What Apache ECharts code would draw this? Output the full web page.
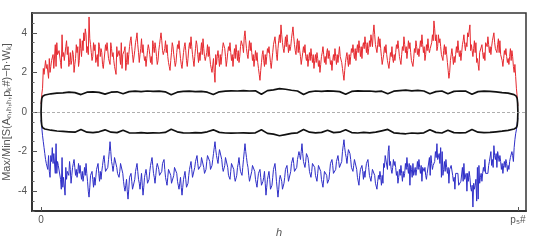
<!DOCTYPE html>
<html><head><meta charset="utf-8">
<script src="https://cdn.jsdelivr.net/npm/echarts@6/dist/echarts.min.js"></script>
<style>html,body{margin:0;padding:0;background:#fff}#c{width:540px;height:241px}</style>
</head><body><div id="c"></div>
<script>
const hMax = 1000;
const xTickValues = [0, 1000];
const xTickLabels = ['0', 'p₅#'];
const yTickValues = [-4, -2, 0, 2, 4];

const redMax = [0.4,1.2,1.9,2.6,2.4,1.7,2.0,2.6,2.9,2.1,2.3,2.9,3.1,2.5,3.9,3.0,2.7,3.6,3.3,2.5,
2.4,3.1,2.0,2.7,3.0,2.3,3.7,2.8,3.1,3.6,3.9,3.3,4.8,3.4,2.6,3.5,3.4,2.6,2.3,3.3,
3.2,2.4,2.6,3.4,3.5,2.7,2.4,3.2,3.0,2.3,1.9,2.8,3.1,2.4,2.2,3.0,3.3,2.5,2.4,3.3,
3.8,2.9,2.6,3.5,4.0,3.0,2.9,3.7,3.4,2.6,2.3,3.1,3.2,2.5,2.4,3.3,3.5,2.8,2.6,3.4,
4.0,3.1,2.8,3.6,3.4,2.5,2.1,3.0,3.3,2.6,2.5,3.4,3.6,2.7,2.2,3.0,3.5,2.6,2.7,3.5,
3.8,2.9,2.3,3.2,3.4,2.5,2.6,3.5,3.7,2.8,2.5,3.4,3.3,2.4,2.0,2.7,1.5,2.4,3.1,2.3,
2.4,3.2,3.6,2.8,2.6,3.3,3.5,2.6,2.3,3.2,3.4,2.6,2.5,3.3,3.7,3.0,4.1,3.2,2.7,3.6,
3.5,2.6,2.3,3.1,3.0,2.2,1.6,2.5,3.1,2.3,2.4,3.2,3.3,2.5,2.6,3.4,3.8,2.9,3.2,3.9,
4.4,3.5,3.0,3.8,3.9,3.0,3.1,3.7,4.3,3.4,2.9,3.7,3.6,2.8,2.5,3.3,3.4,2.6,2.3,3.0,
3.2,2.5,2.2,2.9,3.0,2.3,2.0,2.8,3.3,2.5,2.4,3.2,3.1,2.4,2.1,2.9,3.2,2.4,2.5,3.3,
2.9,2.2,1.6,2.5,3.0,2.3,2.4,3.2,3.4,2.7,2.6,3.4,3.6,2.8,2.7,3.5,3.8,3.0,2.9,3.6,
3.9,3.3,4.4,3.4,3.0,3.8,3.7,2.8,2.5,3.3,3.4,2.6,2.2,3.0,3.3,2.5,2.6,3.4,3.6,2.8,
2.4,3.3,3.8,3.0,2.7,3.6,3.5,2.6,2.3,3.2,3.6,2.9,2.8,3.6,3.9,3.0,2.6,3.4,3.7,3.0,
3.2,3.9,4.6,3.6,3.1,3.9,3.7,2.9,2.6,3.4,3.3,2.5,1.7,2.6,3.2,2.4,2.5,3.3,3.6,2.8,
2.6,3.4,3.9,3.1,3.3,3.8,4.4,3.4,2.8,3.6,3.5,2.7,2.1,2.9,3.4,2.7,2.6,3.4,3.8,3.0,
2.9,3.6,4.0,3.2,3.0,3.7,3.6,2.8,2.3,3.1,3.2,2.5,2.4,3.2,3.1,2.3,2.4,1.2,0.3];

const redFine = [0.9,2.2,2.0,2.2,2.5,2.7,2.3,2.7,2.2,3.4,3.5,2.9,3.2,2.2,2.8,2.6,3.3,2.9,2.3,3.0,
2.6,2.9,2.4,3.4,3.3,2.6,3.2,3.6,4.0,4.2,3.0,2.9,3.7,3.0,2.8,3.1,2.5,2.9,3.5,2.8,
3.0,2.2,2.7,3.1,3.4,2.6,3.5,2.8,2.6,2.2,3.3,2.9,2.8,3.5,2.9,3.1,2.1,3.0,2.9,3.6,
3.3,2.5,3.1,3.7,3.4,2.5,3.2,3.0,2.9,2.8,2.7,3.4,2.9,2.8,3.6,3.0,3.2,2.4,3.1,3.7,
3.6,2.9,3.2,3.0,2.8,2.3,2.6,3.5,2.9,2.3,3.0,3.2,3.1,2.4,2.6,3.3,3.1,2.3,3.2,3.2,
3.3,2.6,2.8,3.6,2.9,3.0,3.1,2.9,3.2,2.6,3.0,2.8,2.8,2.2,2.0,2.0,2.9,2.8,2.7,2.9,
2.8,3.5,3.2,2.3,3.0,3.1,3.0,2.9,2.8,2.7,3.0,3.1,2.8,3.6,3.3,3.8,3.6,2.9,3.2,3.1,
3.0,2.9,2.7,2.6,2.5,1.9,2.1,2.9,2.6,2.9,2.8,3.0,2.9,2.2,3.0,3.3,3.4,2.6,3.6,3.5,
3.9,3.2,3.4,3.3,3.5,3.4,3.3,4.0,3.8,3.1,3.4,3.0,3.1,2.4,3.0,3.0,2.8,2.9,2.7,2.6,
2.8,2.9,2.6,2.5,2.7,2.6,2.4,3.0,2.9,2.8,3.0,2.7,2.8,2.6,2.6,2.6,2.8,2.9,2.9,2.8,
2.5,1.9,2.1,2.8,2.6,2.9,2.8,3.0,3.0,3.2,3.1,3.0,3.2,3.3,3.3,3.2,3.4,3.5,3.2,3.3,
3.8,4.0,3.9,3.3,3.4,3.3,3.2,2.4,2.9,3.0,2.9,2.5,2.6,2.8,2.7,2.9,3.0,3.2,3.2,2.6,
2.9,3.1,3.4,3.3,3.1,3.2,3.0,2.6,2.7,3.0,3.3,3.2,3.2,3.3,3.4,3.3,2.9,3.1,3.2,3.2,
3.5,3.6,4.2,3.9,3.3,3.5,3.3,3.0,3.1,2.9,2.9,2.1,2.0,2.9,2.8,2.8,2.9,3.0,3.1,3.1,
3.0,3.6,3.4,3.5,4.0,3.7,3.1,3.1,3.2,3.0,2.5,2.4,3.0,3.1,3.0,3.0,3.5,3.3,3.4,3.3,
3.3,3.7,3.5,3.2,3.4,3.0,2.9,2.6,2.7,2.9,2.8,2.7,2.8,2.6,2.8,2.0,1.8,0.8];

const blueMin = [-0.4,-1.2,-1.8,-2.4,-2.7,-2.2,-3.3,-2.5,-2.6,-2.0,-1.6,-2.5,-2.8,-3.4,-2.3,-3.3,-4.2,-3.4,-3.1,-2.5,
-3.6,-2.8,-2.4,-3.2,-3.3,-2.6,-2.7,-3.4,-3.5,-2.8,-2.6,-3.5,-4.3,-3.2,-3.0,-3.8,-3.7,-2.9,-2.6,-3.5,
-3.4,-2.7,-2.2,-3.0,-3.1,-2.4,-1.5,-2.5,-3.0,-2.3,-2.4,-3.1,-3.3,-2.6,-2.7,-3.5,-4.0,-3.4,-4.4,-3.3,
-3.1,-3.9,-3.8,-3.0,-2.6,-3.4,-3.9,-3.1,-4.2,-3.3,-2.9,-3.6,-3.4,-2.7,-2.3,-3.1,-3.6,-2.8,-2.5,-3.2,
-3.3,-2.6,-2.4,-3.3,-3.7,-2.9,-2.8,-3.6,-3.5,-2.8,-2.7,-3.5,-3.9,-3.3,-4.2,-3.4,-3.0,-3.8,-3.6,-2.9,
-2.5,-3.3,-3.2,-2.5,-2.2,-2.9,-3.0,-2.3,-2.4,-3.1,-2.9,-2.2,-2.1,-2.9,-2.7,-2.1,-1.5,-2.2,-2.6,-1.9,
-2.0,-2.8,-3.1,-2.3,-2.4,-3.2,-3.4,-2.6,-2.5,-3.3,-3.6,-2.8,-2.3,-3.0,-3.2,-2.4,-1.6,-2.3,-2.8,-3.5,
-3.4,-2.7,-2.6,-3.4,-3.8,-3.1,-2.9,-3.7,-3.5,-3.0,-4.2,-3.4,-3.0,-3.9,-3.7,-2.9,-2.6,-3.5,-4.3,-3.4,
-3.1,-3.9,-3.6,-2.9,-2.7,-3.5,-3.4,-2.6,-2.3,-3.0,-3.1,-2.4,-2.0,-2.4,-1.6,-2.5,-2.8,-2.1,-2.3,-3.0,
-3.3,-2.6,-2.5,-3.2,-3.5,-2.7,-2.6,-3.4,-3.8,-3.0,-2.9,-3.6,-3.4,-2.6,-2.4,-3.1,-3.2,-2.5,-2.2,-2.8,
-2.9,-2.0,-1.4,-2.1,-2.6,-1.9,-2.1,-2.8,-3.0,-2.4,-2.5,-3.3,-3.7,-2.9,-2.7,-3.4,-3.3,-2.6,-2.4,-3.2,
-3.5,-2.9,-2.8,-3.6,-3.9,-3.2,-3.0,-3.7,-3.6,-2.8,-2.3,-2.9,-1.7,-2.5,-3.1,-2.4,-2.5,-3.2,-3.6,-2.9,
-2.7,-3.5,-3.3,-2.6,-2.3,-3.1,-3.7,-2.9,-2.6,-3.3,-3.2,-2.5,-2.4,-3.1,-3.5,-2.7,-2.8,-3.4,-3.0,-2.3,
-2.2,-2.9,-2.7,-2.0,-1.6,-2.3,-2.6,-3.3,-3.2,-2.5,-2.4,-3.1,-3.6,-2.9,-2.8,-3.5,-3.9,-3.2,-3.1,-3.8,
-3.5,-2.8,-2.6,-3.4,-4.0,-3.5,-3.3,-4.0,-4.8,-3.9,-3.4,-2.8,-2.7,-3.3,-3.5,-2.8,-2.4,-3.0,-3.1,-2.5,
-2.0,-2.4,-1.7,-2.4,-2.8,-2.1,-2.2,-2.9,-3.1,-2.5,-2.4,-3.0,-2.9,-2.3,-2.0,-2.5,-1.4,-0.9,-0.3];

const blueFine = [-0.8,-1.5,-2.1,-2.6,-2.9,-3.0,-2.2,-1.8,-2.1,-3.1,-3.1,-2.7,-2.8,-3.9,-3.8,-3.2,-2.8,-3.0,-3.2,-2.9,
-3.2,-2.6,-2.8,-2.9,-3.0,-3.1,-3.1,-3.0,-3.2,-3.2,-3.1,-4.0,-3.8,-3.1,-3.4,-3.3,-3.3,-2.8,-3.1,-3.0,
-3.0,-2.4,-2.6,-3.1,-2.8,-2.0,-2.0,-2.7,-2.7,-2.4,-2.8,-3.2,-3.0,-2.7,-3.1,-3.8,-3.7,-4.0,-3.9,-3.2,
-3.5,-3.8,-3.4,-2.8,-3.0,-3.6,-3.5,-3.7,-3.8,-3.1,-3.2,-3.5,-3.0,-2.5,-2.7,-3.3,-3.2,-2.6,-2.9,-3.2,
-3.0,-2.5,-2.9,-3.5,-3.3,-2.8,-3.2,-3.5,-3.2,-2.8,-3.1,-3.7,-3.6,-3.8,-3.8,-3.2,-3.4,-3.7,-3.2,-2.7,
-2.9,-3.2,-2.8,-2.4,-2.6,-2.9,-2.7,-2.4,-2.8,-3.0,-2.5,-2.1,-2.5,-2.8,-2.4,-1.8,-1.9,-2.4,-2.2,-2.0,
-2.4,-3.0,-2.7,-2.4,-2.8,-3.3,-3.0,-2.6,-2.9,-3.5,-3.2,-2.6,-2.7,-3.1,-2.8,-2.0,-2.0,-2.6,-3.2,-3.4,
-3.0,-2.6,-3.0,-3.6,-3.4,-3.0,-3.3,-3.6,-3.3,-3.6,-3.8,-3.2,-3.4,-3.8,-3.3,-2.8,-3.0,-3.9,-3.9,-3.2,
-3.5,-3.8,-3.3,-2.8,-3.1,-3.4,-3.0,-2.5,-2.6,-3.0,-2.8,-2.2,-2.2,-2.0,-2.1,-2.6,-2.5,-2.2,-2.6,-3.1,
-3.0,-2.5,-2.8,-3.3,-3.1,-2.6,-3.0,-3.6,-3.4,-3.0,-3.2,-3.5,-3.0,-2.5,-2.7,-3.1,-2.9,-2.4,-2.5,-2.8,
-2.5,-1.7,-1.8,-2.3,-2.2,-2.0,-2.4,-2.9,-2.7,-2.5,-2.9,-3.4,-3.2,-2.8,-3.0,-3.0,-2.9,-2.7,-2.8,-3.3,
-3.2,-2.9,-3.2,-3.7,-3.5,-3.4,-3.3,-3.2,-2.6,-2.2,-2.1,-2.0,-2.7,-2.9,-2.8,-2.7,-2.8,-3.0,-3.3,-3.2,
-3.1,-3.0,-3.1,-2.9,-2.8,-2.6,-2.7,-3.3,-3.2,-2.8,-2.9,-2.9,-2.8,-2.7,-2.8,-3.0,-3.2,-3.1,-3.1,-3.2,
-2.6,-2.7,-2.5,-2.3,-2.4,-2.1,-1.8,-2.0,-2.9,-3.0,-2.8,-2.8,-2.9,-2.7,-3.2,-3.3,-3.1,-3.2,-3.7,-3.6,
-3.5,-3.5,-3.4,-3.1,-3.1,-3.0,-3.8,-3.7,-3.6,-3.7,-4.5,-4.4,-3.6,-3.1,-3.1,-3.0,-3.1,-3.2,-2.7,-2.6,
-2.7,-2.8,-2.2,-2.1,-2.0,-2.5,-2.5,-2.6,-2.7,-2.8,-2.6,-2.7,-2.5,-2.2,-2.2,-1.8,-1.1,-0.6];

// black envelopes: evenly spaced interior readings, plus the steep parts at both ends
const blackUpper = [0.86,0.92,0.95,0.97,1.0,0.98,0.88,1.0,1.02,0.99,0.9,1.0,1.02,0.92,1.03,1.05,1.03,1.06,1.04,
1.05,1.02,0.87,1.0,1.04,1.05,1.03,1.04,1.0,0.88,1.02,1.05,1.07,1.06,1.08,1.06,1.07,0.9,1.08,1.12,
1.18,1.15,1.1,1.06,0.88,1.02,1.06,1.04,1.07,1.05,1.03,0.9,1.04,1.07,1.05,1.06,1.03,1.05,0.92,1.05,
1.08,1.1,1.07,1.09,1.06,0.92,1.03,1.06,0.92,1.04,1.06,1.05,0.9,1.03,1.05,1.04,1.02,0.98,0.95,0.88];
const blackLower = [-0.86,-0.92,-0.96,-0.98,-1.0,-1.02,-0.88,-1.02,-1.04,-1.0,-0.9,-1.02,-1.04,-0.92,-1.05,-1.06,-1.04,-1.07,-1.05,
-1.06,-1.03,-0.87,-1.0,-1.05,-1.06,-1.04,-1.05,-1.0,-0.9,-1.03,-1.06,-1.07,-1.06,-1.05,-1.07,-1.05,-0.9,-1.08,-1.12,
-1.2,-1.14,-1.08,-1.05,-0.88,-1.02,-1.05,-1.03,-0.92,-1.04,-1.02,-0.9,-1.04,-1.06,-1.03,-1.05,-1.02,-0.95,-0.88,-1.05,
-1.08,-1.1,-1.06,-1.08,-1.05,-0.9,-1.03,-1.06,-0.92,-1.04,-1.05,-1.04,-0.88,-1.02,-1.04,-1.03,-1.0,-0.97,-0.93,-0.86];
const blackEdgeH = [0, 0.6, 1.5, 3.5];           // distance from each end of the range
const blackEdgeUpper = [0, 0.45, 0.68, 0.8];
const blackEdgeLower = [0, -0.45, -0.68, -0.8];
const blackStartH = 8, blackEndH = 992;

function interleave(main, fine){ const out=[]; main.forEach((v,i)=>{ out.push(v); if(i<fine.length && i<main.length-1) out.push(fine[i]); }); return out; }
function toPairs(arr){ const n = arr.length; return arr.map((v,i)=>[i*hMax/(n-1), v]); }
function blackPairs(main, edge){
  const out = edge.map((v,i)=>[blackEdgeH[i], v]);
  const n = main.length;
  main.forEach((v,i)=>out.push([blackStartH + i*(blackEndH-blackStartH)/(n-1), v]));
  for(let i=edge.length-1;i>=0;i--) out.push([hMax - blackEdgeH[i], edge[i]]);
  return out;
}

const chart = echarts.init(document.getElementById('c'), null, {renderer:'canvas'});
const labelColor = '#555';
const frame = '#333';
const font = 'Liberation Sans';
chart.setOption({
  animation:false,
  backgroundColor:'#fff',
  grid:{left:32, right:14, top:13, bottom:30, show:true, borderColor:frame, borderWidth:1.5,
    containLabel:false, outerBoundsMode:'none'},
  xAxis:{
    type:'value', min:-19, max:1017,
    name:'h', nameLocation:'middle', nameGap:16, nameMoveOverlap:false,
    nameTextStyle:{color:labelColor, fontStyle:'italic', fontFamily:font, fontSize:11},
    axisLine:{show:true, onZero:false, lineStyle:{color:frame, width:2}},
    axisTick:{show:true, inside:true, length:4, customValues:xTickValues, lineStyle:{color:'#555'}},
    axisLabel:{color:labelColor, fontSize:10, fontFamily:font, margin:4,
      customValues:xTickValues, formatter:(v)=>xTickLabels[xTickValues.indexOf(v)]},
    splitLine:{show:false}
  },
  yAxis:[{
    type:'value', min:-5, max:5, interval:0.5,
    name:'Max/Min[S(Aₙ,ₕ,ₕ,pₖ#)−h·Wₖ]', nameLocation:'middle', nameGap:20, nameRotate:90, nameMoveOverlap:false,
    nameTextStyle:{color:labelColor, fontFamily:font, fontSize:11},
    axisLine:{show:true, onZero:false, lineStyle:{color:frame, width:2}},
    axisTick:{show:true, inside:true, length:2.5, lineStyle:{color:'#666'}},
    axisLabel:{color:labelColor, fontSize:10, fontFamily:font, margin:5, customValues:yTickValues},
    splitLine:{show:false}
  },{
    type:'value', min:-5, max:5, position:'left',
    axisLine:{show:false, onZero:false},
    axisTick:{show:true, inside:true, length:5, customValues:yTickValues, lineStyle:{color:'#555'}},
    axisLabel:{show:false},
    splitLine:{show:false}
  }],
  series:[
    {type:'line', data:toPairs(interleave(redMax, redFine)), showSymbol:false, lineStyle:{color:'#e62a30', width:1}, z:3,
      markLine:{silent:true, symbol:['none','none'], label:{show:false},
        lineStyle:{color:'#999', type:[3,2], width:0.8}, data:[{yAxis:0}]}},
    {type:'line', data:toPairs(interleave(blueMin, blueFine)), showSymbol:false, lineStyle:{color:'#2f2fc8', width:1}, z:3},
    {type:'line', data:blackPairs(blackUpper, blackEdgeUpper), showSymbol:false, lineStyle:{color:'#111', width:1.7}, z:4},
    {type:'line', data:blackPairs(blackLower, blackEdgeLower), showSymbol:false, lineStyle:{color:'#111', width:1.7}, z:4}
  ]
});
</script></body></html>
